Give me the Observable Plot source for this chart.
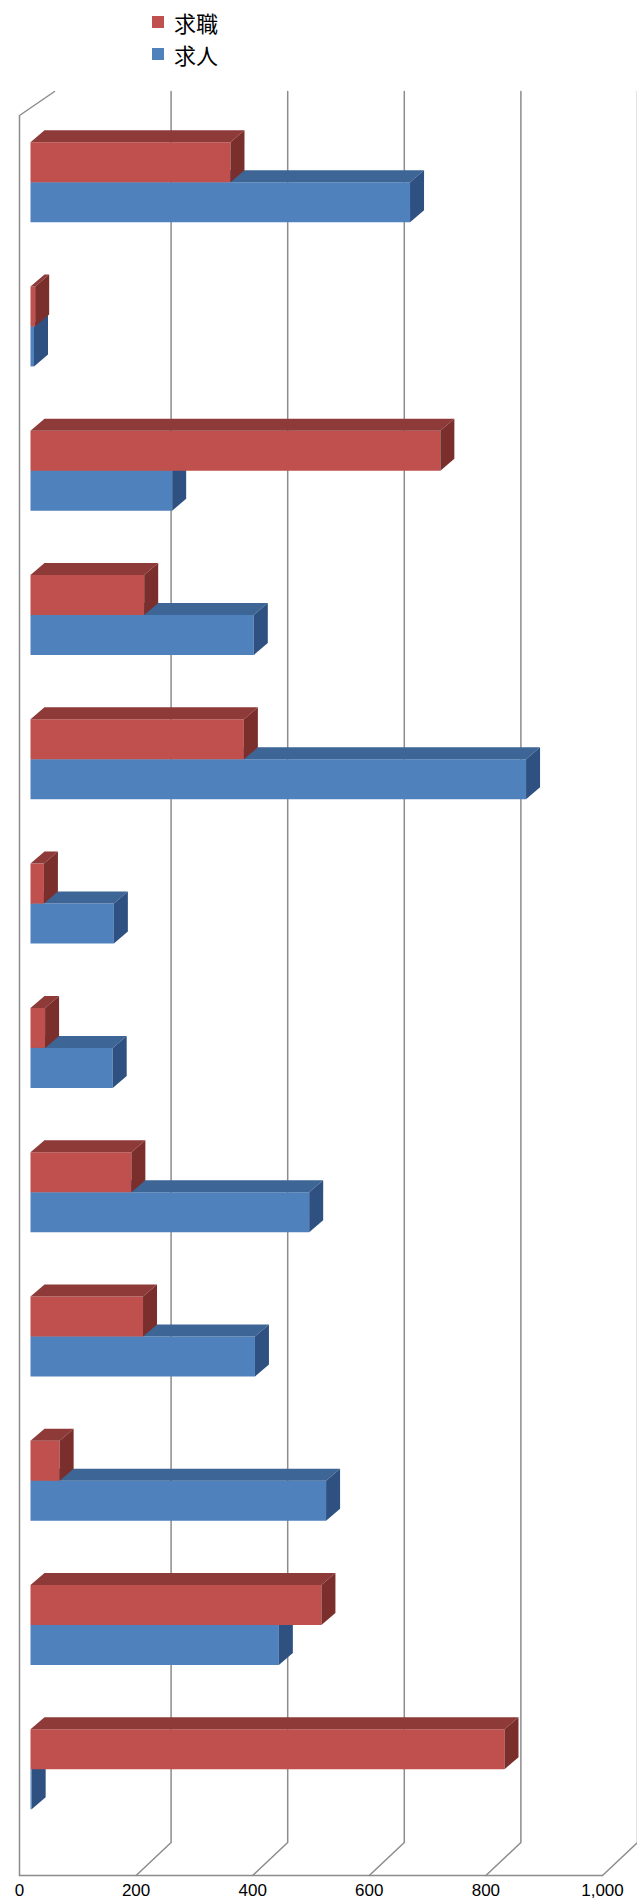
<!DOCTYPE html>
<html lang="ja">
<head>
<meta charset="UTF-8">
<script src="https://cdn.jsdelivr.net/npm/d3@7"></script>
<script src="https://cdn.jsdelivr.net/npm/@observablehq/plot@0.6/dist/plot.umd.min.js"></script>
<style>
  body { margin: 0; background: #fff; font-family: "Noto Sans CJK JP", sans-serif; }
  #legend { height: 62px; position: relative; }
  .item { position: absolute; left: 152px; display: flex; align-items: center; font-size: 22px; }
  .sw { width: 12px; height: 12px; margin-right: 10px; }
</style>
</head>
<body>
<div id="legend">
  <div class="item" style="top:6px"><span class="sw" style="background:#C0504D"></span>求職</div>
  <div class="item" style="top:38px"><span class="sw" style="background:#4F81BD"></span>求人</div>
</div>
<div id="chart"></div>
<script>
// 12 categories (no labels shown), top to bottom
const jobSeekers = [343, 8, 703, 195, 366, 23, 25, 173, 193, 50, 499, 813]; // 求職
const openings   = [651, 6, 243, 383, 850, 143, 141, 478, 385, 507, 426, 2];  // 求人
const ticks = [0, 200, 400, 600, 800, 1000];
const tickLabels = ["0", "200", "400", "600", "800", "1,000"];

// scale geometry (px)
const X0 = 30, X1 = 613, Y0 = 47.5, Y1 = 1779;
const ux = p => p * 1000 / (X1 - X0);       // px -> x units
const uy = p => p * 12 / (Y1 - Y0);         // px -> y units
const py = p => (p - Y0) * 12 / (Y1 - Y0);  // absolute svg y -> y units
const barH = uy(40), ddx = ux(14), ddy = uy(12);

const polys = [];
let id = 0;
function bar(v, a, b, cFront, cTop, cSide) {
  const faces = [
    [[0, a], [v, a], [v, b], [0, b], cFront],
    [[0, a], [v, a], [v + ddx, a - ddy], [ddx, a - ddy], cTop],
    [[v, a], [v + ddx, a - ddy], [v + ddx, b - ddy], [v, b], cSide]
  ];
  for (const f of faces) {
    const c = f.pop();
    id++;
    for (const [x, y] of f) polys.push({id, x, y, c});
  }
}
jobSeekers.forEach((r, i) => {
  const m = i + 0.5;
  bar(openings[i], m, m + barH, "#4F81BD", "#3D6596", "#2E5182");
  bar(r, m - barH, m, "#C0504D", "#8E3A38", "#7A2F2D");
});

// grid / walls
const grid = [];
const fx = ux(-11), bx = ux(24);
const floorF = py(1813), floorB = py(1780), topB = py(29), topF = py(53);
ticks.forEach((t, k) => {
  if (t === 0) {
    grid.push({g: "w", x: fx, y: floorF}, {g: "w", x: fx, y: topF}, {g: "w", x: bx, y: topB});
  } else {
    grid.push({g: k, x: t + fx, y: floorF}, {g: k, x: t + bx, y: floorB}, {g: k, x: t + bx, y: topB});
  }
});
grid.push({g: "f", x: fx, y: floorF}, {g: "f", x: 1000 + fx, y: floorF});

const labels = ticks.map((t, k) => ({x: t + fx, y: py(1828), s: tickLabels[k]}));

const plot = Plot.plot({
  width: 637, height: 1838,
  margin: 0,
  x: {domain: [0, 1000], range: [X0, X1], axis: null},
  y: {domain: [0, 12], range: [Y0, Y1], axis: null},
  marks: [
    Plot.line(grid, {x: "x", y: "y", z: "g", stroke: "#8c8c8c", strokeWidth: 1.5}),
    Plot.line(polys, {x: "x", y: "y", z: "id", fill: "c", stroke: "none"}),
    Plot.text(labels, {x: "x", y: "y", text: "s", fontSize: 17, fill: "#000", lineAnchor: "middle",
      fontFamily: "Liberation Sans, sans-serif"})
  ]
});
document.querySelector("#chart").append(plot);
</script>
</body>
</html>
